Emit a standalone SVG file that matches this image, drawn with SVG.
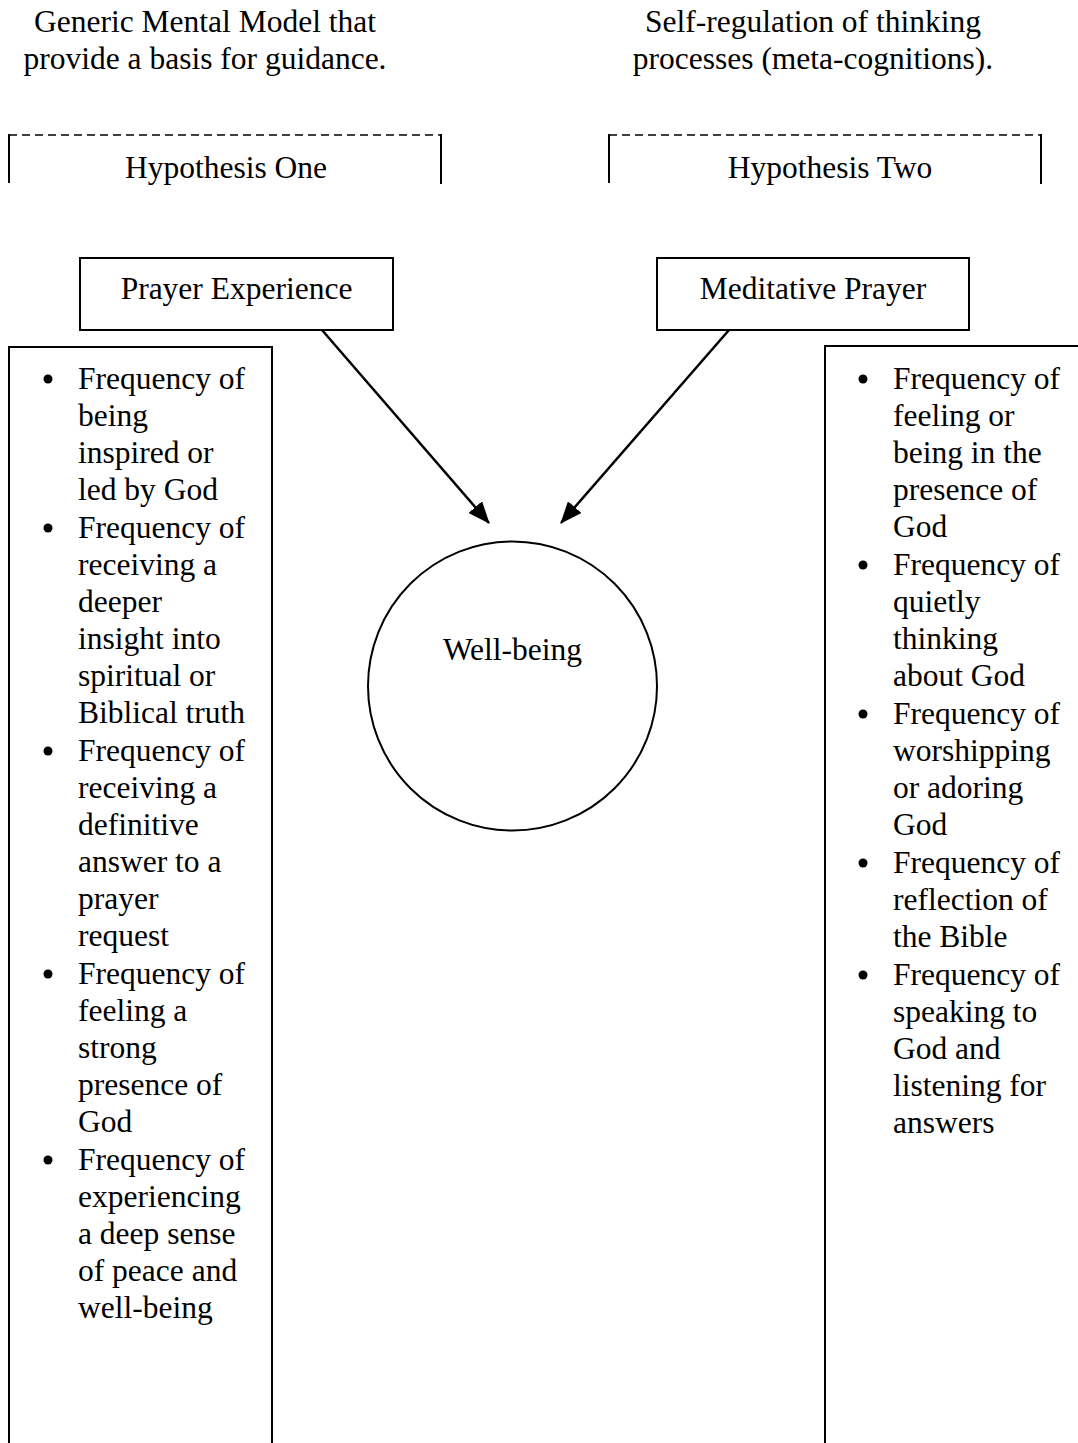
<svg xmlns="http://www.w3.org/2000/svg" width="1078" height="1443" viewBox="0 0 1078 1443">
<style>
text{font-family:"Liberation Serif","Times New Roman",serif;font-size:31.5px;fill:#000}
.c{text-anchor:middle}
.box{fill:#fff;stroke:#000;stroke-width:2}
.edge{stroke:#000;stroke-width:2.5;fill:none}
.dash{stroke:#000;stroke-width:1.6;stroke-dasharray:8 5;fill:none}
.side{stroke:#000;stroke-width:2;fill:none}
</style>
<defs>
<marker id="arrow" markerWidth="22" markerHeight="18" refX="21" refY="9" orient="auto" markerUnits="userSpaceOnUse" viewBox="0 0 22 18">
<path d="M0,0 L22,9 L0,18 Z" fill="#000"/>
</marker>
</defs>
<rect width="1078" height="1443" fill="#fff"/>

<g id="caption-left">
<text class="c" x="205" y="32">Generic Mental Model that</text>
<text class="c" x="205" y="69">provide a basis for guidance.</text>
</g>
<g id="caption-right">
<text class="c" x="813" y="32">Self-regulation of thinking</text>
<text class="c" x="813" y="69">processes (meta-cognitions).</text>
</g>

<g id="hypothesis-one">
<line class="dash" x1="9" y1="135" x2="441" y2="135"/>
<line class="side" x1="9" y1="134" x2="9" y2="183"/>
<line class="side" x1="441" y1="134" x2="441" y2="184"/>
<text class="c" x="226" y="178">Hypothesis One</text>
</g>
<g id="hypothesis-two">
<line class="dash" x1="609" y1="135" x2="1041" y2="135"/>
<line class="side" x1="609" y1="134" x2="609" y2="183"/>
<line class="side" x1="1041" y1="134" x2="1041" y2="184"/>
<text class="c" x="830" y="178">Hypothesis Two</text>
</g>

<g id="prayer-experience">
<rect class="box" x="80" y="258" width="313" height="72"/>
<text class="c" x="236.5" y="299">Prayer Experience</text>
</g>
<g id="meditative-prayer">
<rect class="box" x="657" y="258" width="312" height="72"/>
<text class="c" x="813" y="299">Meditative Prayer</text>
</g>

<g id="left-list">
<path class="box" d="M9,1450 L9,347 L272,347 L272,1450"/>
<circle cx="48" cy="379" r="4.5"/>
<circle cx="48" cy="528" r="4.5"/>
<circle cx="48" cy="751" r="4.5"/>
<circle cx="48" cy="974" r="4.5"/>
<circle cx="48" cy="1160" r="4.5"/>
<text x="78" y="389">Frequency of</text>
<text x="78" y="426">being</text>
<text x="78" y="463">inspired or</text>
<text x="78" y="500">led by God</text>
<text x="78" y="538">Frequency of</text>
<text x="78" y="575">receiving a</text>
<text x="78" y="612">deeper</text>
<text x="78" y="649">insight into</text>
<text x="78" y="686">spiritual or</text>
<text x="78" y="723">Biblical truth</text>
<text x="78" y="761">Frequency of</text>
<text x="78" y="798">receiving a</text>
<text x="78" y="835">definitive</text>
<text x="78" y="872">answer to a</text>
<text x="78" y="909">prayer</text>
<text x="78" y="946">request</text>
<text x="78" y="984">Frequency of</text>
<text x="78" y="1021">feeling a</text>
<text x="78" y="1058">strong</text>
<text x="78" y="1095">presence of</text>
<text x="78" y="1132">God</text>
<text x="78" y="1170">Frequency of</text>
<text x="78" y="1207">experiencing</text>
<text x="78" y="1244">a deep sense</text>
<text x="78" y="1281">of peace and</text>
<text x="78" y="1318">well-being</text>
</g>

<g id="right-list">
<path class="box" d="M1090,346 L825,346 L825,1450"/>
<circle cx="863" cy="379" r="4.5"/>
<circle cx="863" cy="565" r="4.5"/>
<circle cx="863" cy="714" r="4.5"/>
<circle cx="863" cy="863" r="4.5"/>
<circle cx="863" cy="975" r="4.5"/>
<text x="893" y="389">Frequency of</text>
<text x="893" y="426">feeling or</text>
<text x="893" y="463">being in the</text>
<text x="893" y="500">presence of</text>
<text x="893" y="537">God</text>
<text x="893" y="575">Frequency of</text>
<text x="893" y="612">quietly</text>
<text x="893" y="649">thinking</text>
<text x="893" y="686">about God</text>
<text x="893" y="724">Frequency of</text>
<text x="893" y="761">worshipping</text>
<text x="893" y="798">or adoring</text>
<text x="893" y="835">God</text>
<text x="893" y="873">Frequency of</text>
<text x="893" y="910">reflection of</text>
<text x="893" y="947">the Bible</text>
<text x="893" y="985">Frequency of</text>
<text x="893" y="1022">speaking to</text>
<text x="893" y="1059">God and</text>
<text x="893" y="1096">listening for</text>
<text x="893" y="1133">answers</text>
</g>

<g id="well-being">
<circle class="box" cx="512.5" cy="686" r="144.5"/>
<text class="c" x="512.5" y="660">Well-being</text>
</g>

<g id="connectors">
<line class="edge" x1="322" y1="330" x2="489" y2="523" marker-end="url(#arrow)"/>
<line class="edge" x1="729" y1="330" x2="561" y2="523" marker-end="url(#arrow)"/>
</g>
</svg>
